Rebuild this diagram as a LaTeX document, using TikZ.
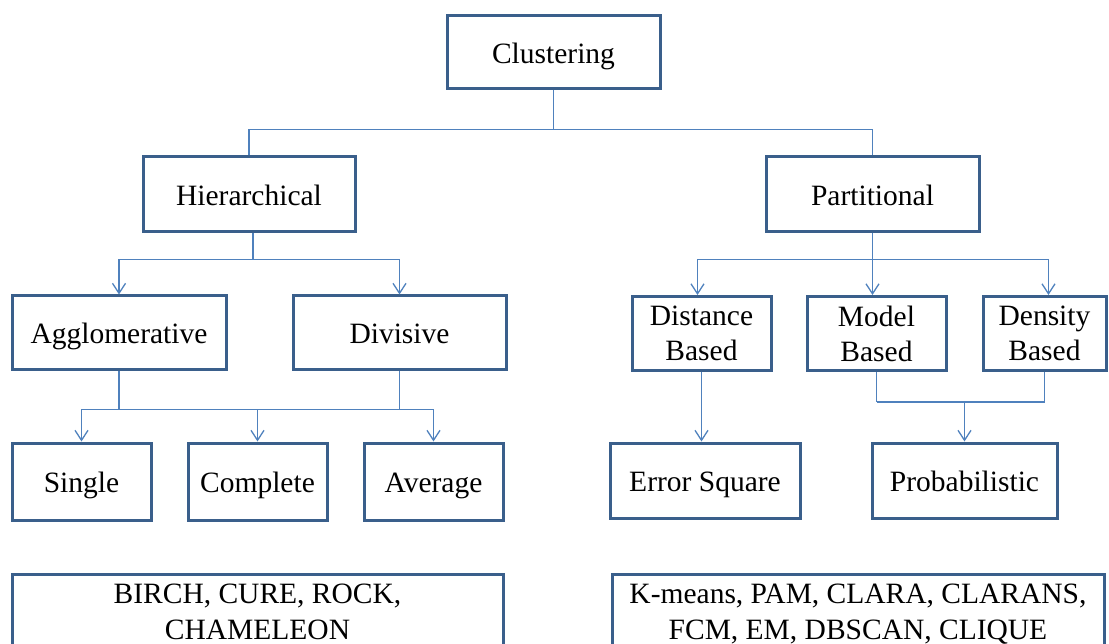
\documentclass[tikz,border=0pt]{standalone}
\usepackage{fontspec}
\setmainfont{Liberation Serif}
\usetikzlibrary{arrows.meta,calc}
\definecolor{boxline}{HTML}{3A5F8B}
\definecolor{conline}{HTML}{4F81BD}
\tikzset{
  box/.style={draw=boxline, line width=3pt, rectangle, inner sep=0pt, align=center,
    font=\fontsize{29.5}{35}\selectfont, text=black, text height=29pt, text depth=7pt},
  box2/.style={draw=boxline, line width=3pt, rectangle, inner sep=0pt, align=center,
    font=\fontsize{29.5}{35}\selectfont, text=black},
  conn/.style={draw=conline, line width=1.3pt},
  carrow/.style={conn, -{Straight Barb[length=10pt,width=13pt,line width=1.3pt]}}
}
\begin{document}
\begin{tikzpicture}[x=1pt,y=-1pt]
\useasboundingbox (0,0) rectangle (1109,644);
\begin{scope}
\clip (0,0) rectangle (1109,644);
% level 0
\node[box, minimum width=213, minimum height=73] (clu) at (553.5,52.5) {Clustering};
% level 1
\node[box, minimum width=212, minimum height=75] (hier) at (249,194.5) {Hierarchical};
\node[box, minimum width=213, minimum height=75] (part) at (872.5,194.5) {Partitional};
% level 2
\node[box, minimum width=214, minimum height=74] (agg) at (119,333) {Agglomerative};
\node[box, minimum width=213, minimum height=74] (div) at (399.5,333) {Divisive};
\node[box2, minimum width=139, minimum height=74] (dist) at (701.5,333.5) {Distance\\Based};
\node[box2, minimum width=139, minimum height=74] (model) at (876.5,333.5) {Model\\Based};
\node[box2, minimum width=123, minimum height=74] (dens) at (1044.5,333.5) {Density\\Based};
% level 3
\node[box, minimum width=139, minimum height=77] (sing) at (81.5,481.5) {Single};
\node[box, minimum width=139, minimum height=77] (comp) at (257.5,481.5) {Complete};
\node[box, minimum width=139, minimum height=77] (avg) at (433.5,481.5) {Average};
\node[box, minimum width=190, minimum height=75] (err) at (705,480.5) {Error Square};
\node[box, minimum width=185, minimum height=75] (prob) at (964.5,480.5) {Probabilistic};
% bottom lists
\node[box2, minimum width=491, minimum height=110, anchor=north] (hlist) at (257.5,573) {};
\node[font=\fontsize{29.5}{36}\selectfont, align=center, anchor=north] (htext) at (257.5,580) {BIRCH, CURE, ROCK,\\CHAMELEON};
\node[box2, minimum width=492, minimum height=110, anchor=north] (plist) at (858,573) {};
\node[font=\fontsize{29.5}{36}\selectfont, align=center, anchor=north] (ptext) at (858,580) {K-means, PAM, CLARA,\ CLARANS,\\FCM, EM, DBSCAN, CLIQUE};
\end{scope}
% connectors: root
\coordinate (r1) at ($(clu.south)+(0,39)$);
\draw[conn] (clu.south) -- (r1);
\draw[conn] (r1) -| (hier.north);
\draw[conn] (r1) -| (part.north);
% hierarchical
\coordinate (h1) at ($(hier.south)+(4,26)$);
\draw[conn] (hier.south -| h1) -- (h1);
\draw[carrow] (h1) -| (agg.north);
\draw[carrow] (h1) -| (div.north);
% partitional
\coordinate (p1) at ($(part.south)+(0,26)$);
\draw[carrow] (part.south) -- (part.south |- model.north);
\draw[carrow] (p1) -| ($(dist.north)+(-4,0)$);
\draw[carrow] (p1) -| ($(dens.north)+(4,0)$);
% agglomerative / divisive
\coordinate (a1) at ($(agg.south)+(0,38)$);
\draw[conn] (agg.south) -- (a1);
\draw[conn] (div.south) -- (div.south |- a1);
\draw[carrow] (a1) -| (sing.north);
\draw[carrow] (a1) -| (avg.north);
\draw[carrow] (comp.north |- a1) -- (comp.north);
% distance
\draw[carrow] (dist.south) -- (dist.south |- err.north);
% model / density
\coordinate (m1) at ($(model.south)+(0,30)$);
\draw[conn] (model.south) -- (m1);
\draw[conn] (m1) -| (dens.south);
\draw[carrow] (prob.north |- m1) -- (prob.north);
\end{tikzpicture}
\end{document}
